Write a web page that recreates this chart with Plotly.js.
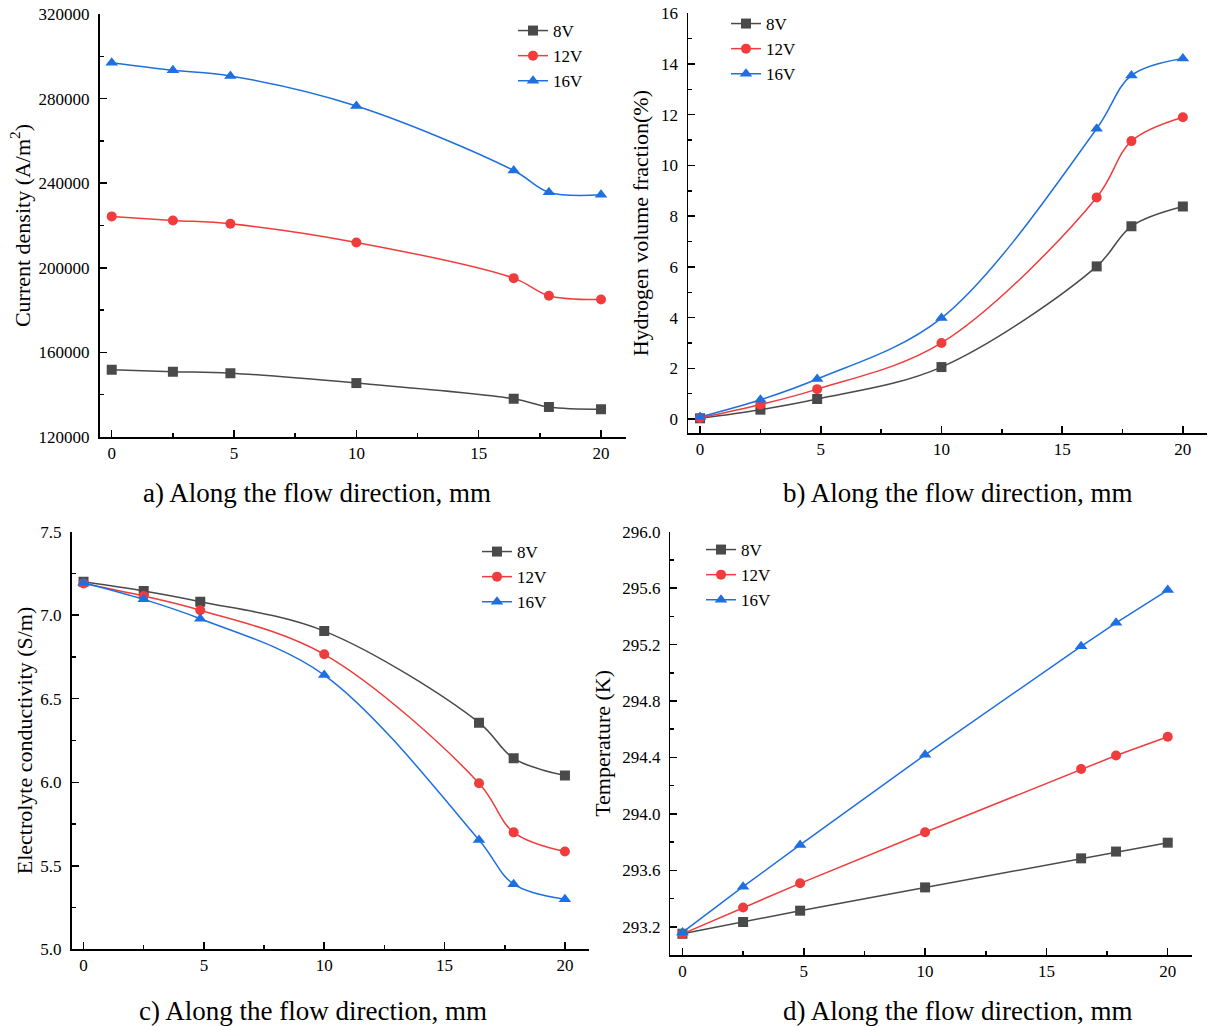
<!DOCTYPE html>
<html>
<head>
<meta charset="utf-8">
<script src="https://cdn.plot.ly/plotly-3.0.1.min.js"></script>
<style>html,body{margin:0;padding:0;background:#fff;}#chart{width:1209px;height:1026px;}</style>
</head>
<body>
<div id="chart"></div>
<script>
// ---- data ----
const xPos = [0, 2.5, 4.85, 10, 16.43, 17.87, 20];
const seriesNames = ['8V', '12V', '16V'];

const currentDensity8 = [151800, 150900, 150200, 145500, 138100, 134200, 133100];
const currentDensity12 = [224300, 222400, 220800, 212000, 195100, 186800, 185000];
const currentDensity16 = [297000, 293400, 290700, 276500, 246000, 235700, 234500];

const hydrogen8 = [0.03, 0.37, 0.79, 2.05, 6.02, 7.6, 8.38];
const hydrogen12 = [0.04, 0.57, 1.18, 3.0, 8.74, 10.96, 11.9];
const hydrogen16 = [0.08, 0.76, 1.58, 3.98, 11.45, 13.55, 14.22];

const conductivity8 = [7.2, 7.145, 7.081, 6.905, 6.357, 6.143, 6.04];
const conductivity12 = [7.19, 7.115, 7.03, 6.766, 5.994, 5.70, 5.585];
const conductivity16 = [7.195, 7.095, 6.979, 6.642, 5.654, 5.39, 5.30];

const temperature8 = [293.15, 293.233, 293.314, 293.479, 293.685, 293.733, 293.796];
const temperature12 = [293.15, 293.337, 293.508, 293.870, 294.318, 294.414, 294.547];
const temperature16 = [293.16, 293.484, 293.780, 294.419, 295.188, 295.354, 295.586];

const yTitles = ['Current density (A/m<sup>2</sup>)', 'Hydrogen volume fraction(%)', 'Electrolyte conductivity (S/m)', 'Temperature (K)'];
const captions = ['a) Along the flow direction, mm', 'b) Along the flow direction, mm', 'c) Along the flow direction, mm', 'd) Along the flow direction, mm'];

// ---- styles ----
const FONT = 'Liberation Serif, Times New Roman, serif';
const colors = ['#4a4a4a', '#f03c3c', '#1e6fe0'];
const symbols = ['square', 'circle', 'triangle-up'];
const sizes = [10, 10, 11];
const W = 1209, H = 1026;

const panels = [
  {data: [currentDensity8, currentDensity12, currentDensity16], shape: 'spline', xa: 'x', ya: 'y', legend: 'legend'},
  {data: [hydrogen8, hydrogen12, hydrogen16], shape: 'spline', xa: 'x2', ya: 'y2', legend: 'legend2'},
  {data: [conductivity8, conductivity12, conductivity16], shape: 'spline', xa: 'x3', ya: 'y3', legend: 'legend3'},
  {data: [temperature8, temperature12, temperature16], shape: 'linear', xa: 'x4', ya: 'y4', legend: 'legend4'}
];

const traces = [];
panels.forEach(p => {
  p.data.forEach((vals, i) => {
    traces.push({
      x: xPos, y: vals, name: seriesNames[i], type: 'scatter', mode: 'lines+markers',
      xaxis: p.xa, yaxis: p.ya, legend: p.legend,
      line: {color: colors[i], width: 1.5, shape: p.shape, smoothing: 1},
      marker: {color: colors[i], symbol: symbols[i], size: sizes[i]}
    });
  });
});

function px2x(a, b) { return [a / W, b / W]; }
function px2y(top, bottom) { return [1 - bottom / H, 1 - top / H]; }

function xAxis(domain, anchor) {
  return {
    domain: domain, anchor: anchor, range: [-0.5, 21.0], tick0: 0, dtick: 5,
    showline: true, linecolor: '#000', linewidth: 1.5, showgrid: false, zeroline: false,
    ticks: 'inside', ticklen: 7, tickwidth: 1.5, tickcolor: '#000',
    minor: {ticks: 'inside', ticklen: 4, tickwidth: 1.5, tickcolor: '#000', dtick: 2.5, tick0: 0, showgrid: false},
    tickfont: {family: FONT, size: 17, color: '#000'}, fixedrange: true
  };
}
function yAxis(domain, anchor, range, tick0, dtick, minorTick0, minorDtick, fmt, title, standoff) {
  return {
    domain: domain, anchor: anchor, range: range, tick0: tick0, dtick: dtick,
    tickformat: fmt, exponentformat: 'none', separatethousands: false,
    showline: true, linecolor: '#000', linewidth: 1.5, showgrid: false, zeroline: false,
    ticks: 'inside', ticklen: 7, tickwidth: 1.5, tickcolor: '#000', ticklabelstandoff: 5,
    minor: {ticks: 'inside', ticklen: 4, tickwidth: 1.5, tickcolor: '#000', dtick: minorDtick, tick0: minorTick0, showgrid: false},
    tickfont: {family: FONT, size: 17, color: '#000'},
    title: {text: title, font: {family: FONT, size: 22, color: '#000'}, standoff: standoff},
    fixedrange: true
  };
}

function legend(xpx, ypx) {
  return {
    x: xpx / W, y: 1 - ypx / H, xanchor: 'left', yanchor: 'top',
    bgcolor: 'rgba(0,0,0,0)', borderwidth: 0,
    font: {family: FONT, size: 17, color: '#000'}, tracegroupgap: 0
  };
}

const layout = {
  width: W, height: H, margin: {l: 0, r: 0, t: 0, b: 0},
  paper_bgcolor: '#fff', plot_bgcolor: '#fff', showlegend: true,
  font: {family: FONT, color: '#000'},
  xaxis: xAxis(px2x(99.5, 625.5), 'y'),
  yaxis: yAxis(px2y(14, 437), 'x', [120000, 320000], 120000, 40000, 120000, 20000, 'd', yTitles[0], 2),
  xaxis2: xAxis(px2x(688, 1207), 'y2'),
  yaxis2: yAxis(px2y(13.3, 433), 'x2', [-0.55, 16], 0, 2, 0, 1, 'd', yTitles[1], 6),
  xaxis3: xAxis(px2x(71.5, 589), 'y3'),
  yaxis3: yAxis(px2y(531.7, 949.3), 'x3', [5.0, 7.5], 5.0, 0.5, 5.0, 0.25, '.1f', yTitles[2], 1),
  xaxis4: xAxis(px2x(670.3, 1192), 'y4'),
  yaxis4: yAxis(px2y(531.7, 955), 'x4', [293.0, 296.0], 293.2, 0.4, 293.0, 0.2, '.1f', yTitles[3], 5),
  legend: legend(513, 13),
  legend2: legend(726, 6),
  legend3: legend(477, 534),
  legend4: legend(701, 532),
  annotations: [
    {text: captions[0], x: 317 / W, y: 1 - 493 / H},
    {text: captions[1], x: 957 / W, y: 1 - 493 / H},
    {text: captions[2], x: 313 / W, y: 1 - 1011 / H},
    {text: captions[3], x: 957 / W, y: 1 - 1011 / H}
  ].map(a => Object.assign(a, {xref: 'paper', yref: 'paper', xanchor: 'center', yanchor: 'middle', showarrow: false,
    font: {family: FONT, size: 27, color: '#000'}}))
};

Plotly.newPlot('chart', traces, layout, {displayModeBar: false, staticPlot: true});
</script>
</body>
</html>
